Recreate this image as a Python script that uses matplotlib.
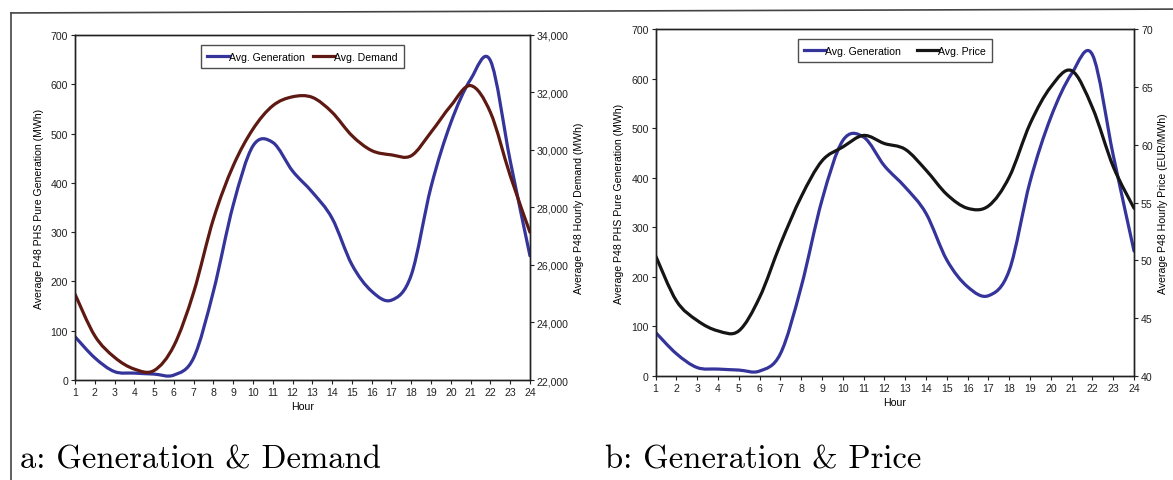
import matplotlib
matplotlib.use("Agg")
import matplotlib.pyplot as plt
import numpy as np
from matplotlib.path import Path
from matplotlib.patches import PathPatch
from matplotlib.lines import Line2D
from matplotlib.ticker import FuncFormatter

plt.rcParams['font.family'] = ['Liberation Sans', 'DejaVu Sans']

# data
hours = list(range(1, 25))
generation = [88, 45, 17, 14, 12, 10, 45, 180, 355, 475, 482, 424, 381, 328, 234, 180,
              162, 213, 392, 522, 610, 648, 445, 252]
demand = [24990, 23540, 22790, 22380, 22330, 23190, 25050, 27600, 29450, 30730, 31540,
          31850, 31830, 31310, 30500, 29980, 29830, 29800, 30620, 31540, 32240, 31310,
          29110, 27140]
price = [50.4, 46.5, 44.8, 43.9, 43.9, 46.8, 51.4, 55.5, 58.6, 59.8, 60.8, 60.1, 59.6,
         57.8, 55.7, 54.5, 54.7, 57.2, 61.8, 65.0, 66.4, 63.2, 58.1, 54.5]

BLUE = '#34349a'
RED = '#5e1a12'
BLACK = '#151515'
FS = 7.6


def smooth_path(x, y):
    # excel style smoothed line: cubic bezier through the points
    x = np.asarray(x, float)
    y = np.asarray(y, float)
    n = len(x)
    verts = [(x[0], y[0])]
    codes = [Path.MOVETO]
    for i in range(n - 1):
        p0 = (x[max(i - 1, 0)], y[max(i - 1, 0)])
        p1 = (x[i], y[i])
        p2 = (x[i + 1], y[i + 1])
        p3 = (x[min(i + 2, n - 1)], y[min(i + 2, n - 1)])
        c1 = (p1[0] + (p2[0] - p0[0]) / 6, p1[1] + (p2[1] - p0[1]) / 6)
        c2 = (p2[0] - (p3[0] - p1[0]) / 6, p2[1] - (p3[1] - p1[1]) / 6)
        verts += [c1, c2, p2]
        codes += [Path.CURVE4] * 3
    return Path(verts, codes)


def draw_line(ax, x, y, color):
    ax.add_patch(PathPatch(smooth_path(x, y), fill=False, edgecolor=color, lw=2.3,
                           capstyle='round', joinstyle='round'))


def style_axis(ax):
    ax.tick_params(direction='out', length=3, width=0.8, labelsize=FS, colors='#222222', pad=2)
    for s in ax.spines.values():
        s.set_linewidth(1.0)
        s.set_color('#222222')


fig = plt.figure(figsize=(11.73, 4.81), dpi=100)

# panel a
ax1 = fig.add_axes([0.0639, 0.2079, 0.3879, 0.7173])
ax1b = ax1.twinx()
draw_line(ax1, hours, generation, BLUE)
draw_line(ax1b, hours, demand, RED)
ax1.set_xlim(1, 24)
ax1.set_ylim(0, 700)
ax1b.set_ylim(22000, 34000)
ax1.set_xticks(hours)
ax1.set_yticks(range(0, 701, 100))
ax1b.set_yticks(range(22000, 34001, 2000))
ax1b.yaxis.set_major_formatter(FuncFormatter(lambda v, p: f'{int(v):,}'))
ax1.set_xlabel('Hour', fontsize=FS, labelpad=3)
ax1.set_ylabel('Average P48 PHS Pure Generation (MWh)', fontsize=FS, labelpad=5)
ax1b.set_ylabel('Average P48 Hourly Demand (MWh)', fontsize=FS, labelpad=4)
style_axis(ax1)
style_axis(ax1b)
h = [Line2D([], [], color=BLUE, lw=2.3), Line2D([], [], color=RED, lw=2.3)]
leg = ax1.legend(h, ['Avg. Generation', 'Avg. Demand'], loc='upper center', ncol=2,
                 fontsize=FS, frameon=True, fancybox=False, edgecolor='#222222',
                 handlelength=2.0, handletextpad=0.0, columnspacing=0.8,
                 borderpad=0.6, bbox_to_anchor=(0.5, 0.985))
leg.get_frame().set_linewidth(1.0)

# panel b
ax2 = fig.add_axes([0.5589, 0.2162, 0.4079, 0.7214])
ax2b = ax2.twinx()
draw_line(ax2, hours, generation, BLUE)
draw_line(ax2b, hours, price, BLACK)
ax2.set_xlim(1, 24)
ax2.set_ylim(0, 700)
ax2b.set_ylim(40, 70)
ax2.set_xticks(hours)
ax2.set_yticks(range(0, 701, 100))
ax2b.set_yticks(range(40, 71, 5))
ax2.set_xlabel('Hour', fontsize=FS, labelpad=3)
ax2.set_ylabel('Average P48 PHS Pure Generation (MWh)', fontsize=FS, labelpad=5)
ax2b.set_ylabel('Average P48 Hourly Price (EUR/MWh)', fontsize=FS, labelpad=4)
style_axis(ax2)
style_axis(ax2b)
h = [Line2D([], [], color=BLUE, lw=2.3), Line2D([], [], color=BLACK, lw=2.3)]
leg = ax2.legend(h, ['Avg. Generation', 'Avg. Price'], loc='upper center', ncol=2,
                 fontsize=FS, frameon=True, fancybox=False, edgecolor='#222222',
                 handlelength=2.0, handletextpad=0.0, columnspacing=1.5,
                 borderpad=0.6, bbox_to_anchor=(0.5, 0.985))
leg.get_frame().set_linewidth(1.0)

# outer frame lines and captions
fig.add_artist(Line2D([0.0094, 1.0], [0.971, 0.979], color='#444444', lw=1.2,
                      transform=fig.transFigure))
fig.add_artist(Line2D([0.0094, 0.0094], [0.0, 0.971], color='#444444', lw=1.2,
                      transform=fig.transFigure))
fig.text(0.017, 0.025, 'a: Generation & Demand', fontsize=23.5, family='cmr10',
         va='baseline', stretch='condensed')
fig.text(0.516, 0.025, 'b: Generation & Price', fontsize=23.5, family='cmr10',
         va='baseline', stretch='condensed')

fig.savefig('out.png', dpi=100)
